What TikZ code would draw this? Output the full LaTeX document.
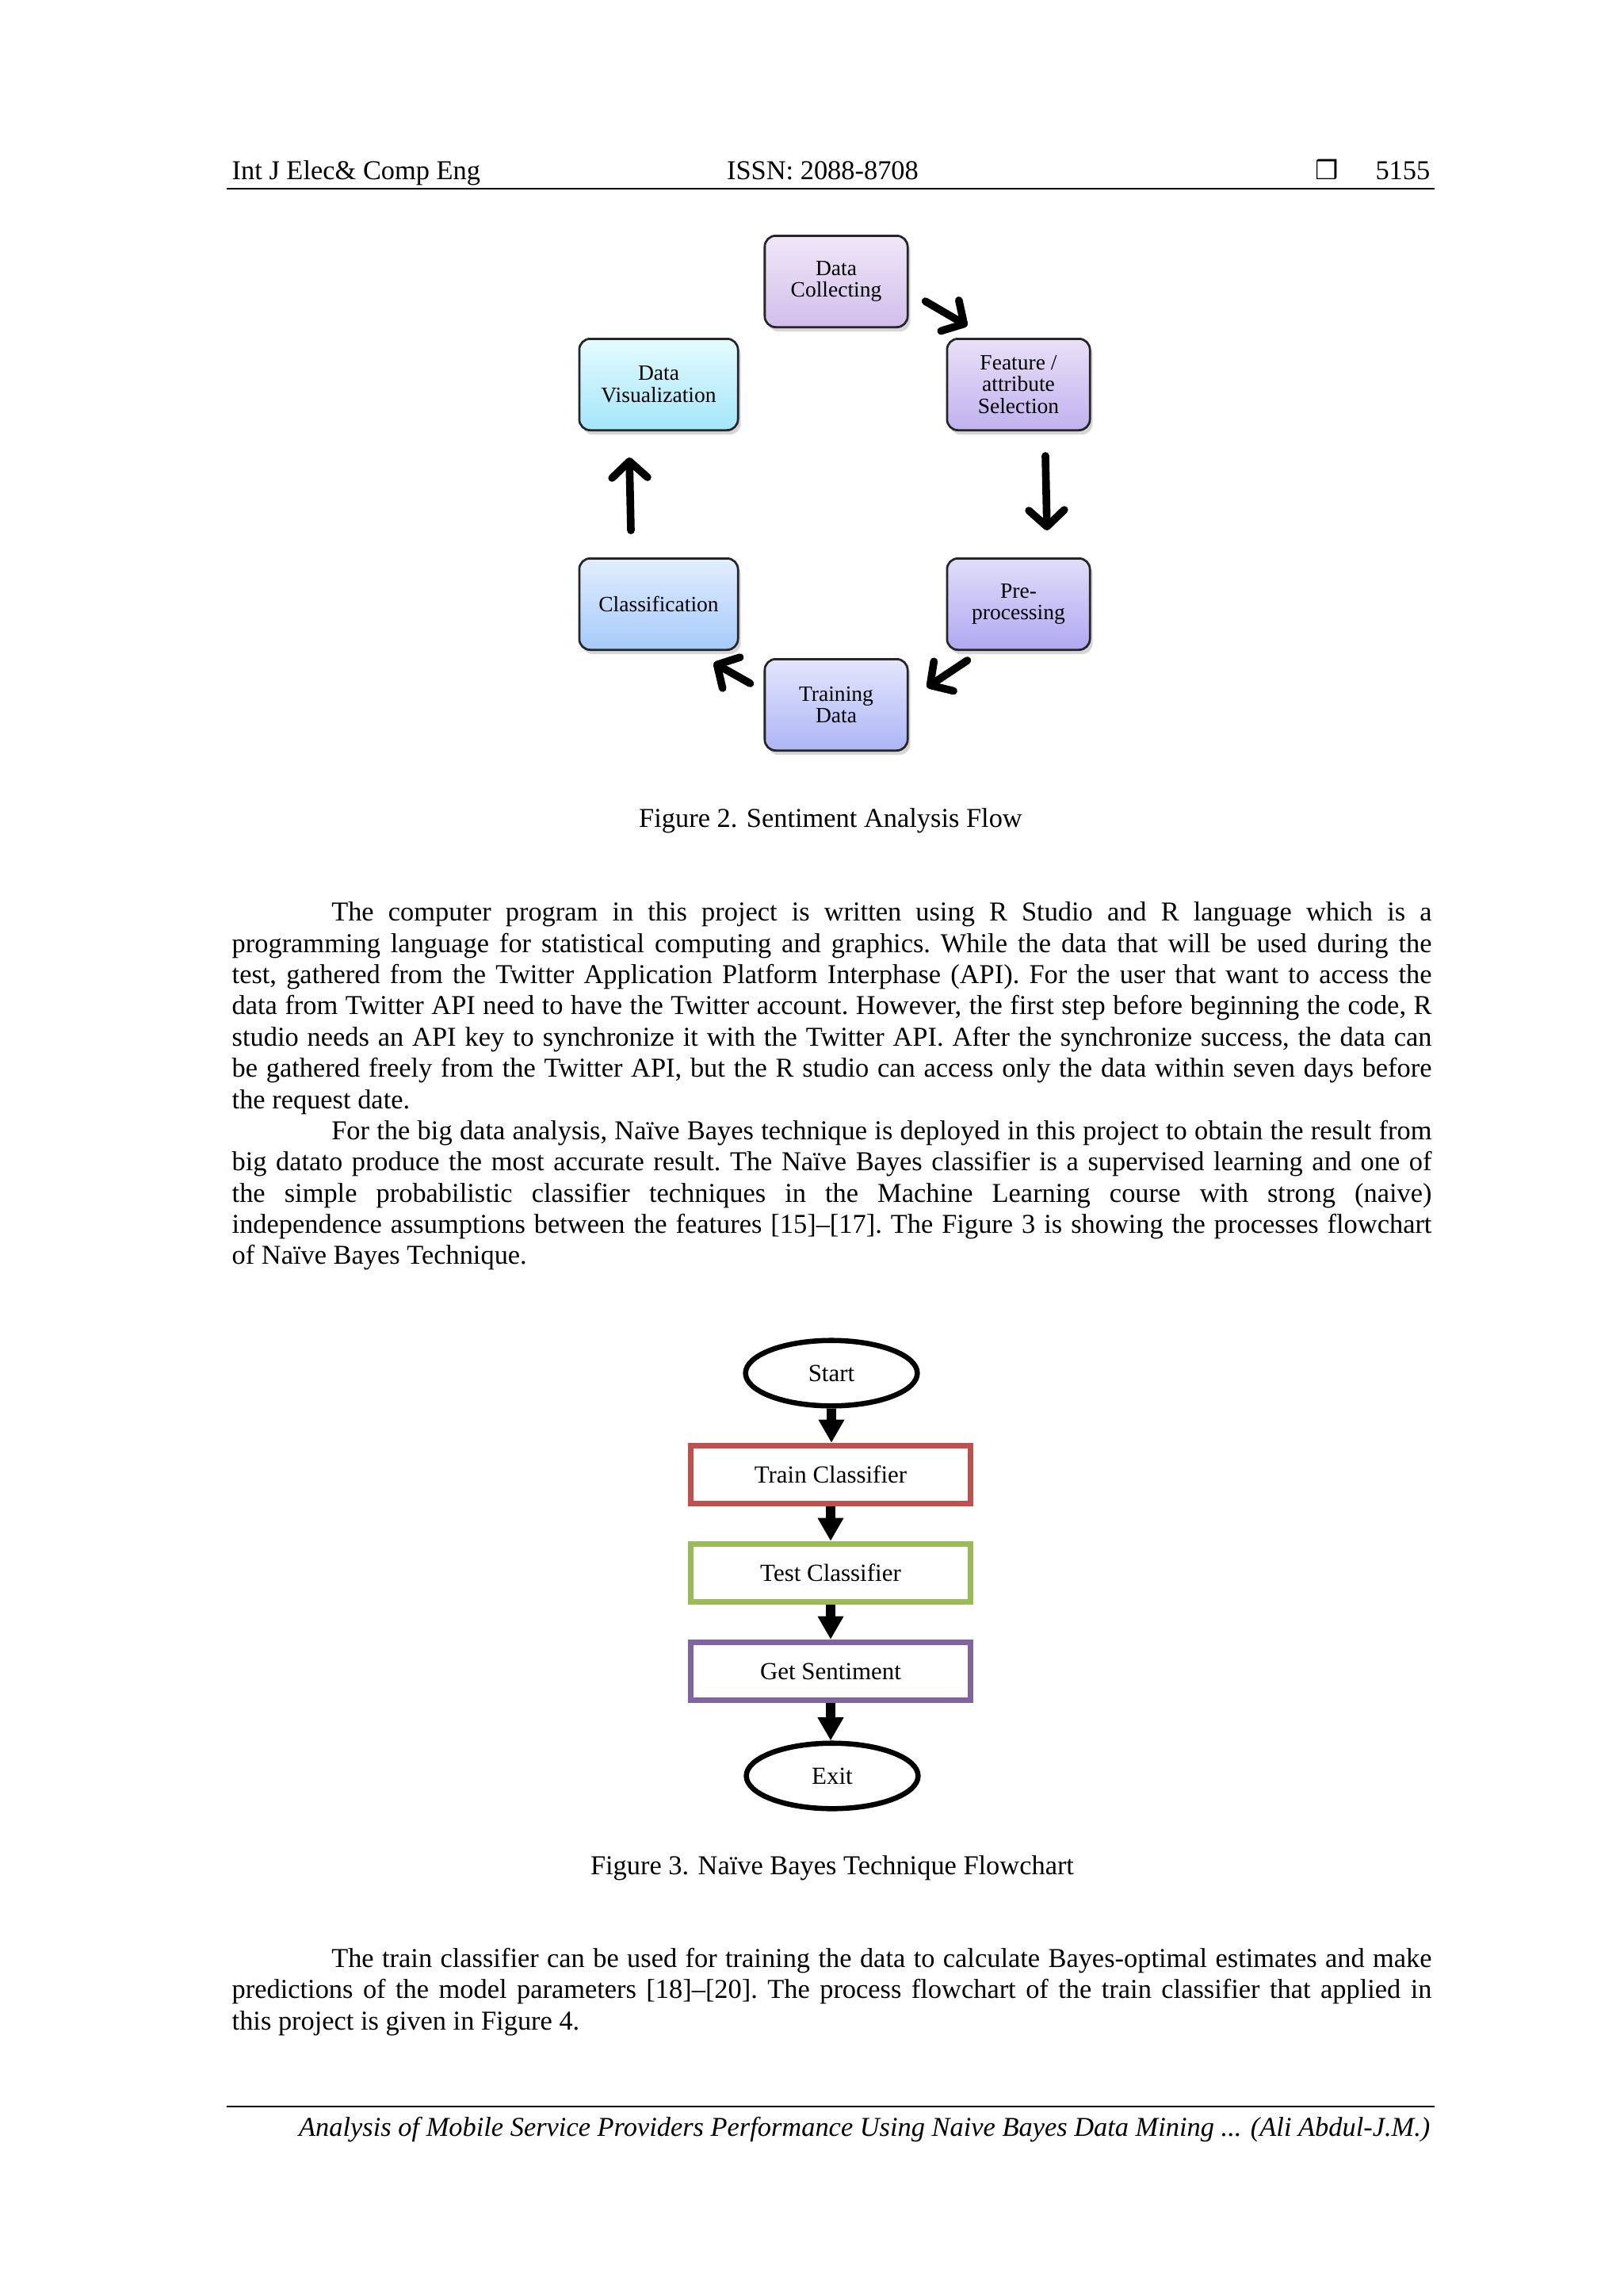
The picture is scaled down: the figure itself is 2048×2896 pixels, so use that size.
\documentclass[tikz,border=0pt]{standalone}
\usepackage{fontspec}
\setmainfont{Liberation Serif}
\newfontfamily\symfont{DejaVu Sans}
\usetikzlibrary{shapes.geometric, arrows.meta, calc, shadows}
\definecolor{collecttop}{RGB}{240,231,248}
\definecolor{collectbot}{RGB}{210,190,234}
\definecolor{featuretop}{RGB}{232,225,248}
\definecolor{featurebot}{RGB}{192,178,238}
\definecolor{preproctop}{RGB}{224,222,250}
\definecolor{preprocbot}{RGB}{176,168,242}
\definecolor{trainingtop}{RGB}{228,230,252}
\definecolor{trainingbot}{RGB}{172,182,246}
\definecolor{classiftop}{RGB}{226,238,255}
\definecolor{classifbot}{RGB}{166,202,250}
\definecolor{visualtop}{RGB}{228,251,255}
\definecolor{visualbot}{RGB}{164,230,250}
\definecolor{trainred}{RGB}{192,80,77}
\definecolor{testgreen}{RGB}{155,187,89}
\definecolor{sentpurple}{RGB}{128,100,162}

\begin{document}
\begin{tikzpicture}[
    x=0.29067pt, y=-0.29067pt,
    stagebox/.style={rectangle, rounded corners=4pt, draw=black!85, line width=0.8pt,
        minimum height=33.5pt, align=center, inner sep=1pt, font=\fontsize{8}{8.1}\selectfont,
        drop shadow={shadow xshift=1pt, shadow yshift=-1.6pt, fill=black!45, opacity=0.35}},
    cyclearrow/.style={line width=2.8pt, line cap=round, -{Straight Barb[length=6pt, width=13pt, round]}},
    terminal/.style={ellipse, draw, line width=1.9pt, minimum width=63pt, minimum height=24pt,
        inner sep=0pt, font=\fontsize{9}{10}\selectfont},
    flowbox/.style={rectangle, draw, line width=2.1pt, minimum width=102.6pt, minimum height=21.3pt,
        inner sep=0pt, font=\fontsize{9}{10}\selectfont},
    flowarrow/.style={line width=3.4pt, -{Triangle[length=8.5pt, width=9pt]}},
    body/.style={text width=440pt, align=justify, inner sep=0pt, anchor=north west,
        font=\fontsize{10}{11.45}\selectfont},
    caption/.style={anchor=base, inner sep=0pt, font=\fontsize{10}{11.45}\selectfont},
    pagetext/.style={inner sep=0pt, font=\fontsize{10}{11.45}\selectfont}
]

% Page
\fill[white] (0,0) rectangle (2048,2896);
\useasboundingbox (0,0) rectangle (2048,2896);

% Header
\node[pagetext, anchor=base west] (journal) at (292,226) {Int J Elec\& Comp Eng};
\node[pagetext, anchor=base] (issn) at (1038,226) {ISSN: 2088-8708};
\node[inner sep=0pt, anchor=base, font=\symfont\fontsize{9.5}{9.5}\selectfont] (pagebox) at (1674,226) {❒};
\node[pagetext, anchor=base east] (pagenum) at (1805,226) {5155};
\draw[line width=0.6pt] (286,238) -- (1810,238);

% Figure 2: cycle
\node[stagebox, minimum width=52.4pt, top color=collecttop, bottom color=collectbot] (collect) at (1055,355) {Data\\Collecting};
\node[stagebox, minimum width=52.4pt, top color=featuretop, bottom color=featurebot] (feature) at (1285,485) {Feature /\\attribute\\Selection};
\node[stagebox, minimum width=52.4pt, top color=preproctop, bottom color=preprocbot] (preproc) at (1285,762) {Pre-\\processing};
\node[stagebox, minimum width=52.4pt, top color=trainingtop, bottom color=trainingbot] (training) at (1055,889) {Training\\Data};
\node[stagebox, minimum width=58.2pt, top color=classiftop, bottom color=classifbot] (classif) at (831,762) {Classification};
\node[stagebox, minimum width=58.2pt, top color=visualtop, bottom color=visualbot] (visual) at (831,485) {Data\\Visualization};

\draw[cyclearrow] ($(collect.south east)+(21,-34)$) -- ($(feature.north west)+(27,-15)$);
\draw[cyclearrow] ($(feature.south)+(34,31)$) -- ($(preproc.north)+(36,-34)$);
\draw[cyclearrow] ($(preproc.south west)+(27,12)$) -- ($(training.north east)+(23,37)$);
\draw[cyclearrow] ($(training.north west)+(-17,32)$) -- ($(classif.south east)+(-32,15)$);
\draw[cyclearrow] ($(classif.north)+(-35,-34)$) -- ($(visual.south)+(-37,33)$);

\node[caption] (cap2) at (1048,1043) {Figure 2. Sentiment Analysis Flow};

% Body text
\node[body] (para1) at (292,1133.4) {\frenchspacing\hyphenpenalty=10000\exhyphenpenalty=10000\strut
\hspace*{36.5pt}The computer program in this project is written using R Studio and R language which is a\linebreak
programming language for statistical computing and graphics. While the data that will be used during the\linebreak
test, gathered from the Twitter Application Platform Interphase (API). For the user that want to access the\linebreak
data from Twitter API need to have the Twitter account. However, the first step before beginning the code, R\linebreak
studio needs an API key to synchronize it with the Twitter API. After the synchronize success, the data can\linebreak
be gathered freely from the Twitter API, but the R studio can access only the data within seven days before\linebreak
the request date.\par
\hspace*{36.5pt}For the big data analysis, Naïve Bayes technique is deployed in this project to obtain the result from\linebreak
big datato produce the most accurate result. The Naïve Bayes classifier is a supervised learning and one of\linebreak
the simple probabilistic classifier techniques in the Machine Learning course with strong (naive)\linebreak
independence assumptions between the features [15]–[17]. The Figure 3 is showing the processes flowchart\linebreak
of Naïve Bayes Technique.};

% Figure 3: flowchart
\node[terminal] (start) at (1049,1732) {Start};
\node[flowbox, draw=trainred] (train) at (1048,1860) {Train Classifier};
\node[flowbox, draw=testgreen] (test) at (1048,1984) {Test Classifier};
\node[flowbox, draw=sentpurple] (sentiment) at (1048,2108) {Get Sentiment};
\node[terminal] (exit) at (1050,2240) {Exit};

\draw[flowarrow] (start.south) -- (start.south |- train.north);
\draw[flowarrow] (train.south) -- (test.north);
\draw[flowarrow] (test.south) -- (sentiment.north);
\draw[flowarrow] (sentiment.south) -- (sentiment.south |- exit.north);

\node[caption] (cap3) at (1050,2364) {Figure 3. Naïve Bayes Technique Flowchart};

\node[body] (para3) at (292,2453) {\frenchspacing\hyphenpenalty=10000\exhyphenpenalty=10000\strut
\hspace*{36.5pt}The train classifier can be used for training the data to calculate Bayes-optimal estimates and make\linebreak
predictions of the model parameters [18]–[20]. The process flowchart of the train classifier that applied in\linebreak
this project is given in Figure 4.};

% Footer
\draw[line width=0.6pt] (286,2657) -- (1810,2657);
\node[pagetext, anchor=base east, font=\fontsize{10}{11.45}\selectfont\itshape] (footer) at (1805,2694)
    {Analysis of Mobile Service Providers Performance Using Naive Bayes Data Mining ... (Ali Abdul-J.M.)};

\end{tikzpicture}
\end{document}
